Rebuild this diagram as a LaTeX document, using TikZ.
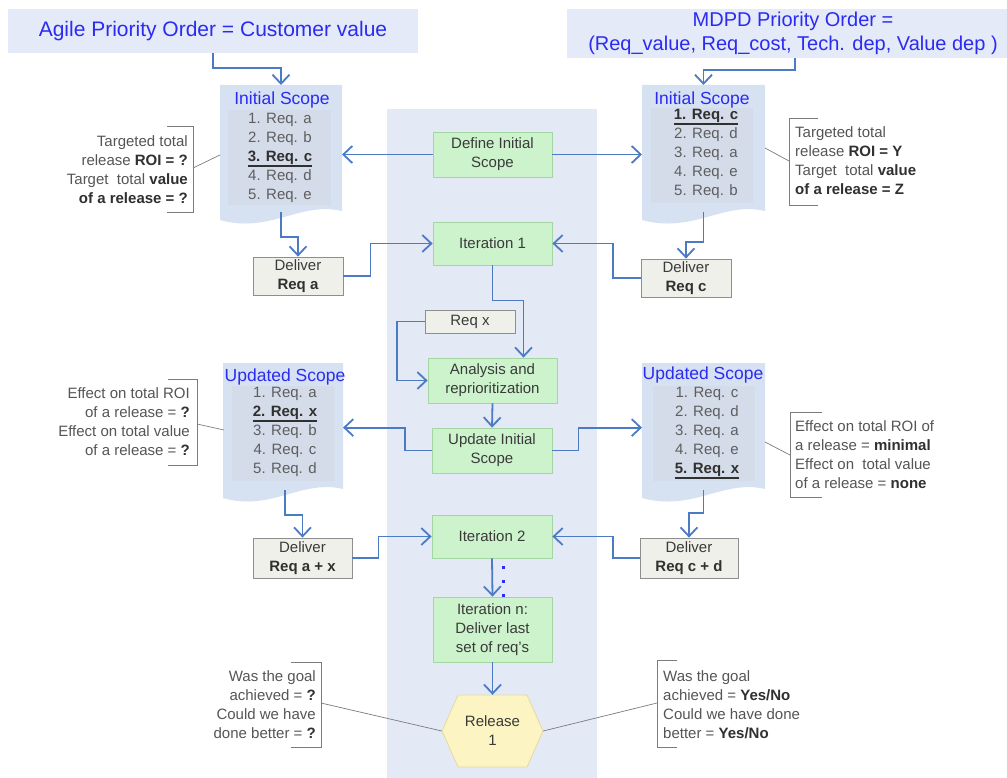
\documentclass[tikz,border=0pt]{standalone}
\usepackage{fontspec}
\setmainfont{Liberation Sans}
\usetikzlibrary{arrows.meta,calc}

\definecolor{hdrband}{HTML}{E4EAF7}
\definecolor{midband}{HTML}{E3E9F5}
\definecolor{docfill}{HTML}{D6E1F2}
\definecolor{docinner}{HTML}{D4DCEA}
\definecolor{titleblue}{HTML}{2B2BF2}
\definecolor{flowblue}{HTML}{4C7BC6}
\definecolor{greenfill}{HTML}{CCF3CC}
\definecolor{greenline}{HTML}{A4D6A4}
\definecolor{grayfill}{HTML}{F0F0EA}
\definecolor{grayline}{HTML}{8E8E8E}
\definecolor{hexfill}{HTML}{FCF4C2}
\definecolor{hexline}{HTML}{E4DB9E}
\definecolor{itemgray}{HTML}{5E5E5E}
\definecolor{notegray}{HTML}{555555}
\definecolor{darktext}{HTML}{303030}
\definecolor{boxtext}{HTML}{3A3A3A}
\definecolor{leader}{HTML}{7C7C7C}

\newcommand{\smallfs}{\fontsize{15}{19}\selectfont}
\newcommand{\strongtxt}[1]{\textbf{\color{darktext}#1}}
% bold list entry with a heavier underline
\newcommand{\keyitem}[1]{{\color{darktext}\setbox0\hbox{\textbf{#1}}%
  \vtop{\copy0\kern0.6pt\hrule width\wd0 height 1.2pt}}}

\begin{document}
\begin{tikzpicture}[x=1pt,y=-1pt,
  flow/.style={draw=flowblue, line width=1.8pt, -{Straight Barb[length=9pt,width=17pt]}},
  stage/.style={draw=greenline, line width=0.8pt, fill=greenfill, align=center,
    inner sep=0pt, font=\smallfs, text=boxtext},
  deliver/.style={draw=grayline, line width=0.8pt, fill=grayfill, align=center,
    inner sep=0pt, font=\smallfs, text=boxtext},
  doctitle/.style={text=titleblue, font=\fontsize{17.5}{20}\selectfont, inner sep=0pt},
  items/.style={text=itemgray, font=\smallfs, align=center, inner sep=0pt},
  note/.style={text=notegray, font=\smallfs, inner sep=0pt},
  bracket/.style={draw=leader, line width=0.9pt},
  leaderline/.style={draw=leader, line width=0.7pt},
  docarea/.style={inner sep=0pt, outer sep=0pt},
]
\useasboundingbox (0,0) rectangle (1007,778);
\fill[white] (0,0) rectangle (1007,778);

% ---------- backgrounds ----------
\fill[midband] (387,109) rectangle (597,778);

\node[fill=hdrband, minimum width=410pt, minimum height=44pt, inner sep=0pt,
      text=titleblue, font=\fontsize{21}{25}\selectfont] (agile) at (213,31)
      {Agile Priority Order = Customer value};
\fill[hdrband] (567,9) rectangle (1007,58);
\node[minimum height=49pt, inner sep=0pt, align=center, text=titleblue,
      font=\fontsize{20}{24}\selectfont] (mdpd) at (793,33.5)
      {MDPD Priority Order =\\(Req\_value, Req\_cost, Tech. dep, Value dep )};

% ---------- scope documents ----------
\fill[docfill] (220,85) -- (342,85) -- (342,211)
  .. controls (300,201) and (270,234) .. (220,220) -- cycle;
\fill[docinner] (228,110) rectangle (331,205);
\fill[docfill] (642,85) -- (765,85) -- (765,211)
  .. controls (723,201) and (693,234) .. (642,220) -- cycle;
\fill[docinner] (651,108) rectangle (753,203);
\fill[docfill] (223,363) -- (343,363) -- (343,489)
  .. controls (301,479) and (271,512) .. (223,498) -- cycle;
\fill[docinner] (232,386) rectangle (334,481);
\fill[docfill] (642,363) -- (765,363) -- (765,489)
  .. controls (723,479) and (693,512) .. (642,498) -- cycle;
\fill[docinner] (653,386) rectangle (755,481);

\node[docarea, minimum width=122pt, minimum height=127pt] (lis) at (281,148.5) {};
\node[docarea, minimum width=123pt, minimum height=127pt] (ris) at (703.5,148.5) {};
\node[docarea, minimum width=120pt, minimum height=134pt] (lus) at (283,430) {};
\node[docarea, minimum width=123pt, minimum height=134pt] (rus) at (703.5,430) {};

\node[doctitle] (listitle) at (282,100) {Initial Scope};
\node[doctitle] (ristitle) at (702,100) {Initial Scope};
\node[doctitle] (lustitle) at (285,377) {Updated Scope};
\node[doctitle] (rustitle) at (703,375) {Updated Scope};

\node[items] (lisitems) at (280,158)
  {1. Req. a\\2. Req. b\\\keyitem{3. Req. c}\\4. Req. d\\5. Req. e};
\node[items] (risitems) at (706,154)
  {\keyitem{1. Req. c}\\2. Req. d\\3. Req. a\\4. Req. e\\5. Req. b};
\node[items] (lusitems) at (285,432)
  {1. Req. a\\\keyitem{2. Req. x}\\3. Req. b\\4. Req. c\\5. Req. d};
\node[items] (rusitems) at (707,433)
  {1. Req. c\\2. Req. d\\3. Req. a\\4. Req. e\\\keyitem{5. Req. x}};

% ---------- central flow ----------
\node[stage, minimum width=119pt, minimum height=45pt] (define) at (492.5,154.5)
  {Define Initial\\Scope};
\node[stage, minimum width=119pt, minimum height=43pt] (it1) at (492.5,243.5)
  {Iteration 1};
\node[deliver, minimum width=90pt, minimum height=23pt] (reqx) at (470,321.5)
  {Req x};
\node[stage, minimum width=129pt, minimum height=45pt] (ana) at (492.5,380.5)
  {Analysis and\\reprioritization};
\node[stage, minimum width=120pt, minimum height=45pt] (upd) at (492,450.5)
  {Update Initial\\Scope};
\node[stage, minimum width=120pt, minimum height=43pt] (it2) at (492,536.5)
  {Iteration 2};
\node[stage, minimum width=119pt, minimum height=65pt] (itn) at (492.5,629.5)
  {Iteration n:\\Deliver last\\set of req's};

\filldraw[fill=hexfill, draw=hexline, line width=0.8pt]
  (442,731) -- (458,695) -- (527,695) -- (543,731) -- (527,767) -- (458,767) -- cycle;
\node[inner sep=0pt, minimum width=101pt, minimum height=72pt, align=center,
      font=\smallfs, text=boxtext] (rel) at (492.5,731) {Release\\1};

% ---------- deliver boxes ----------
\node[deliver, minimum width=90pt, minimum height=38pt] (dela) at (298,276)
  {Deliver\\\strongtxt{Req a}};
\node[deliver, minimum width=90pt, minimum height=38pt] (delc) at (686,278)
  {Deliver\\\strongtxt{Req c}};
\node[deliver, minimum width=99pt, minimum height=40pt] (delax) at (302.5,558)
  {Deliver\\\strongtxt{Req a + x}};
\node[deliver, minimum width=98pt, minimum height=40pt] (delcd) at (689,558)
  {Deliver\\\strongtxt{Req c + d}};

% ---------- annotations ----------
\node[note, anchor=east, align=right] (anl) at (188,169.5)
  {Targeted total\\release \strongtxt{ROI = ?}\\Target\ \ total \strongtxt{value}\\\strongtxt{of a release = ?}};
\draw[bracket] (167,126) -- (193,126) -- (193,212) -- (167,212);
\coordinate (anlpt) at (193,168);
\coordinate (lispt) at (220,155);
\draw[leaderline] (anlpt) -- (lispt);

\node[note, anchor=west, align=left] (anr) at (795,161)
  {Targeted total\\release \strongtxt{ROI = Y}\\Target\ \ total \strongtxt{value}\\\strongtxt{of a release = Z}};
\draw[bracket] (818,118) -- (789,118) -- (789,205) -- (818,205);
\coordinate (anrpt) at (789,161);
\coordinate (rispt) at (765,148);
\draw[leaderline] (anrpt) -- (rispt);

\node[note, anchor=east, align=right] (aul) at (190,422)
  {Effect on total ROI\\of a release = \strongtxt{?}\\Effect on total value\\of a release = \strongtxt{?}};
\draw[bracket] (168,379) -- (197,379) -- (197,465) -- (168,465);
\coordinate (aulpt) at (197,424);
\coordinate (luspt) at (224,430);
\draw[leaderline] (aulpt) -- (luspt);

\node[note, anchor=west, align=left] (aur) at (795,454.5)
  {Effect on total ROI of\\a release = \strongtxt{minimal}\\Effect on\ \ total value\\of a release = \strongtxt{none}};
\draw[bracket] (822,412) -- (790,412) -- (790,497) -- (822,497);
\coordinate (aurpt) at (790,455);
\coordinate (ruspt) at (765,442);
\draw[leaderline] (aurpt) -- (ruspt);

\node[note, anchor=east, align=right] (abl) at (316,705)
  {Was the goal\\achieved = \strongtxt{?}\\Could we have\\done better = \strongtxt{?}};
\draw[bracket] (291,662) -- (321,662) -- (321,747) -- (291,747);
\coordinate (ablpt) at (321,703);
\draw[leaderline] (ablpt) -- (rel.west);

\node[note, anchor=west, align=left] (abr) at (663,705)
  {Was the goal\\achieved = \strongtxt{Yes/No}\\Could we have done\\better = \strongtxt{Yes/No}};
\draw[bracket] (677,660) -- (657,660) -- (657,747) -- (677,747);
\coordinate (abrpt) at (657,703);
\draw[leaderline] (rel.east) -- (abrpt);

% ---------- connectors ----------
\draw[flow] (agile.south) -- ++(0,15) -| (lis.north);
\draw[flow] ([xshift=2pt]mdpd.south) -- ++(0,12) -| (ris.north);
\draw[flow] (define.west) -- (lis.east |- define.west);
\draw[flow] (define.east) -- (ris.west |- define.east);
\draw[flow] (lis.south) -- ++(0,25) -| (dela.north);
\draw[flow] (ris.south) -- ++(0,30) -| (delc.north);
\draw[flow] (dela.east) -- ++(27,0) |- (it1.west);
\draw[flow] (delc.west) -- ++(-28,0) |- (it1.east);
\draw[flow] (it1.south) -- ++(0,35) -| ([xshift=31pt]ana.north);
\draw[flow] (reqx.west) -- ++(-28,0) |- (ana.west);
\draw[flow] (ana.south) -- (upd.north);
\draw[flow] (upd.west) -- ++(-27,0) |- (lus.east |- upd.north);
\draw[flow] (upd.east) -- ++(26,0) |- (rus.west |- upd.north);
\draw[flow] ([xshift=2pt,yshift=7pt]lus.south) -- ++(0,25) -| (delax.north);
\draw[flow] ([yshift=7pt]rus.south) -- ++(0,23) -| (delcd.north);
\draw[flow] (delax.east) -- ++(26,0) |- (it2.west);
\draw[flow] (delcd.west) -- ++(-27,0) |- (it2.east);
\draw[flow] (it2.south) -- (itn.north);
\draw[flow] (itn.south) -- (rel.north);

% continuation dots between the iterations
\foreach \yy in {567,581,595}
  \fill[titleblue] (501.5,\yy-1.5) rectangle ++(3,3);
\end{tikzpicture}
\end{document}
